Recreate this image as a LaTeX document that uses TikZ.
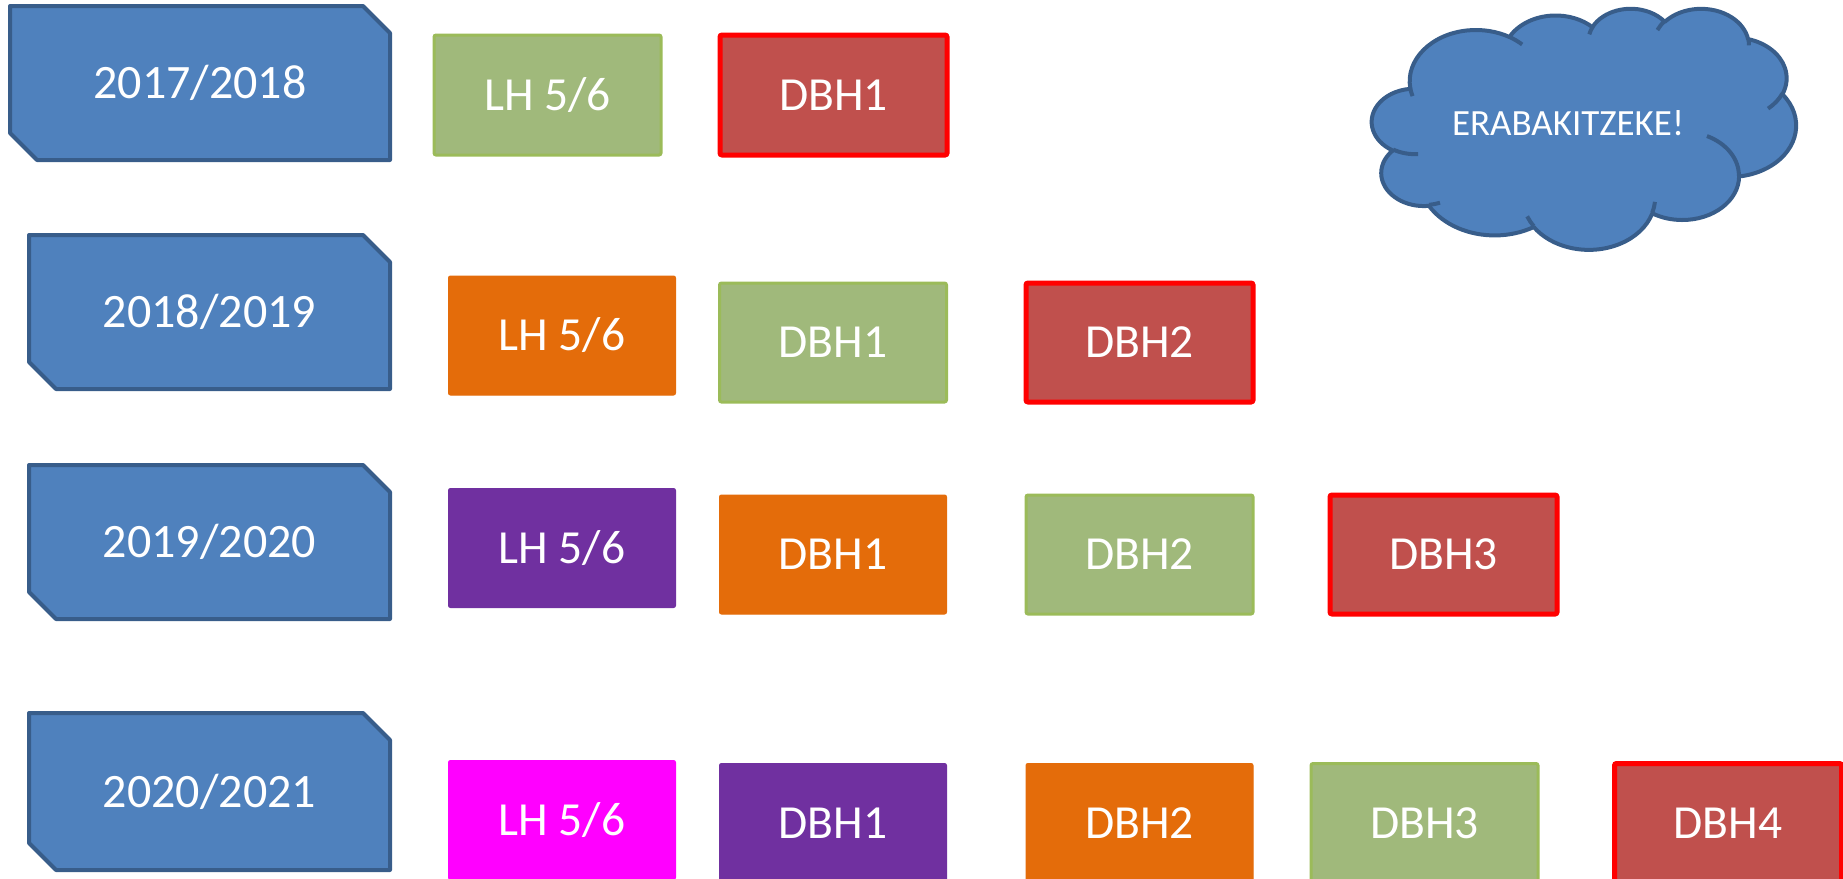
\documentclass[tikz,border=0pt]{standalone}
\usepackage{fontspec}
\setmainfont{Carlito}
\usetikzlibrary{shapes.misc}
\definecolor{yearblue}{HTML}{4F81BD}
\definecolor{yearedge}{HTML}{385D8A}
\definecolor{gfill}{HTML}{A0B97B}
\definecolor{gedge}{HTML}{9BBB59}
\definecolor{rfill}{HTML}{C0504D}
\definecolor{oran}{HTML}{E46C0A}
\definecolor{purp}{HTML}{7030A0}
\definecolor{mag}{HTML}{FF00FF}
\tikzset{
  yearbox/.style={chamfered rectangle, chamfered rectangle corners={north east,south west},
    chamfered rectangle xsep=13.5pt, chamfered rectangle ysep=13.5pt,
    fill=yearblue, draw=yearedge, line width=4pt, line join=round, text=white,
    font=\fontsize{48}{57}\selectfont, minimum height=154pt, inner sep=0pt},
  basebox/.style={rectangle, rounded corners=2pt, text=white,
    font=\fontsize{47.5}{57}\selectfont, minimum width=227pt, minimum height=119pt, inner sep=0pt},
  greenbox/.style={basebox, fill=gfill, draw=gedge, line width=3pt},
  redbox/.style={basebox, fill=rfill, draw=red, line width=5pt},
  orangebox/.style={basebox, fill=oran, draw=oran, line width=1pt},
  purplebox/.style={basebox, fill=purp, draw=purp, line width=1pt},
  magbox/.style={basebox, fill=mag, draw=mag, line width=1pt},
  cloudline/.style={draw=yearedge, line width=4pt, line join=round},
  cloudfill/.style={cloudline, fill=yearblue},
  cloudtext/.style={text=white, font=\fontsize{37}{44}\selectfont, inner sep=0pt}
}
\begin{document}
\begin{tikzpicture}[x=1pt,y=-1pt]
\useasboundingbox (0,0) rectangle (1843,878);
\clip (0,0) rectangle (1843,878);
% years
\node[yearbox, minimum width=380pt] (y1) at (200,83) {2017/2018};
\node[yearbox, minimum width=361pt] (y2) at (209.5,312) {2018/2019};
\node[yearbox, minimum width=361pt] (y3) at (209.5,542) {2019/2020};
\node[yearbox, minimum width=361pt, minimum height=157pt] (y4) at (209.5,791.5) {2020/2021};
% row 1
\node[greenbox, minimum height=120pt] (r1a) at (547.5,95) {LH 5/6};
\node[redbox, minimum height=120pt] (r1b) at (833.5,95) {DBH1};
% row 2
\node[orangebox] (r2a) at (562,335.5) {LH 5/6};
\node[greenbox] (r2b) at (833,342.5) {DBH1};
\node[redbox] (r2c) at (1139.5,342.5) {DBH2};
% row 3
\node[purplebox] (r3a) at (562,548) {LH 5/6};
\node[orangebox] (r3b) at (833,554.5) {DBH1};
\node[greenbox] (r3c) at (1139.5,554.5) {DBH2};
\node[redbox] (r3d) at (1443.5,554.5) {DBH3};
% row 4
\node[magbox] (r4a) at (562,820) {LH 5/6};
\node[purplebox] (r4b) at (833,823) {DBH1};
\node[orangebox] (r4c) at (1139.5,823) {DBH2};
\node[greenbox] (r4d) at (1424.5,823) {DBH3};
\node[redbox] (r4e) at (1728,823) {DBH4};
% cloud
\begin{scope}[shift={(1372,8)}, x=0.98148pt, y=-0.55787pt]
\draw[cloudfill] (39.00,143.70)
 arc[start angle=-187.745, delta angle=128.10, x radius=67.53, y radius=91.90]
 arc[start angle=-152.03, delta angle=106.57, x radius=53.33, y radius=72.67]
 arc[start angle=-153.49, delta angle=116.15, x radius=43.65, y radius=59.45]
 arc[start angle=-139.71, delta angle=129.50, x radius=48.57, y radius=65.95]
 arc[start angle=-74.77, delta angle=97.98, x radius=53.33, y radius=72.73]
 arc[start angle=-37.52, delta angle=119.38, x radius=67.75, y radius=92.20]
 arc[start angle=0.46, delta angle=121.51, x radius=57.85, y radius=78.67]
 arc[start angle=16.85, delta angle=129.38, x radius=67.52, y radius=92.15]
 arc[start angle=58.99, delta angle=91.21, x radius=77.20, y radius=105.43]
 arc[start angle=-276.69, delta angle=139.80, x radius=43.60, y radius=59.18]
 arc[start angle=-239.65, delta angle=143.76, x radius=43.45, y radius=59.45]
 -- cycle;
\draw[cloudline]
 (46.93,261.77) arc[start angle=85.55, delta angle=34.81, x radius=43.45, y radius=59.45]
 (69.28,348.99) arc[start angle=68.24, delta angle=15.07, x radius=43.60, y radius=59.18]
 (164.78,390.90) arc[start angle=146.23, delta angle=12.24, x radius=67.52, y radius=92.15]
 (288.27,347.51) arc[start angle=4.74, delta angle=12.11, x radius=67.52, y radius=92.15]
 (341.29,229.54) arc[start angle=-64.03, delta angle=64.49, x radius=57.85, y radius=78.67]
 (417.98,153.54) arc[start angle=23.21, delta angle=26.43, x radius=53.33, y radius=72.73]
 (383.24,54.26) arc[start angle=-10.21, delta angle=11.03, x radius=48.57, y radius=65.95]
 (290.78,39.52) arc[start angle=-156.29, delta angle=16.58, x radius=48.57, y radius=65.95]
 (221.41,47.20) arc[start angle=-167.73, delta angle=14.24, x radius=43.65, y radius=59.45]
 (140.00,51.92) arc[start angle=-59.64, delta angle=13.90, x radius=67.53, y radius=91.90]
 (41.27,157.89) arc[start angle=163.19, delta angle=9.07, x radius=67.53, y radius=91.90];
\end{scope}
\node[cloudtext] (cl) at (1568,123) {ERABAKITZEKE!};
\end{tikzpicture}
\end{document}
